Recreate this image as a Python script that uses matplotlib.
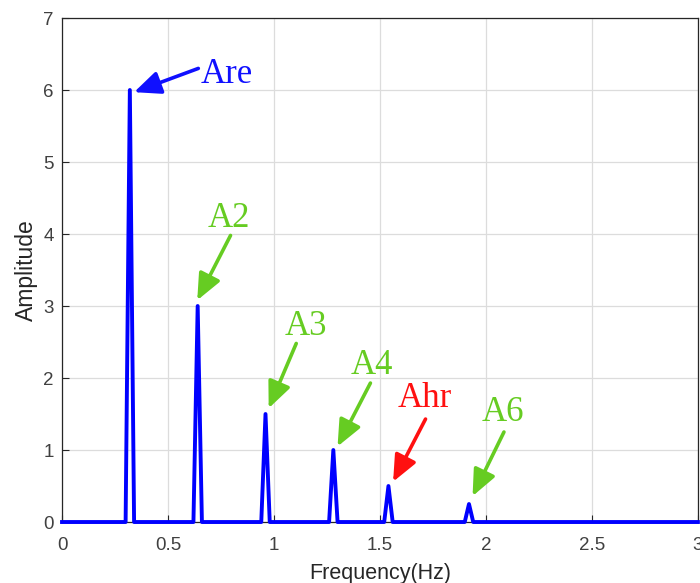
import matplotlib.pyplot as plt
import numpy as np

# Spectrum samples
freq = [0.0, 0.30, 0.32, 0.34, 0.62, 0.64, 0.66, 0.94, 0.96, 0.98,
        1.26, 1.28, 1.30, 1.52, 1.54, 1.56, 1.90, 1.92, 1.94, 3.0]
amp = [0.0, 0.0, 6.0, 0.0, 0.0, 3.0, 0.0, 0.0, 1.5, 0.0,
       0.0, 1.0, 0.0, 0.0, 0.5, 0.0, 0.0, 0.25, 0.0, 0.0]

# Annotations: label, text position, arrow start, arrow tip, colour
labels = ['Are', 'A2', 'A3', 'A4', 'Ahr', 'A6']
text_xy = [(0.652, 6.22), (0.785, 4.22), (1.15, 2.72), (1.46, 2.18), (1.71, 1.72), (2.08, 1.52)]
text_ha = ['left', 'center', 'center', 'center', 'center', 'center']
start_xy = [(0.643, 6.30), (0.795, 3.98), (1.105, 2.48), (1.455, 1.93), (1.715, 1.43), (2.085, 1.25)]
tip_xy = [(0.34, 5.97), (0.638, 3.08), (0.975, 1.58), (1.30, 1.05), (1.562, 0.56), (1.937, 0.36)]
label_colors = ['#1010ff', '#66cc22', '#66cc22', '#66cc22', '#ff1010', '#66cc22']

axis_gray = '#262626'

fig = plt.figure(figsize=(7.0, 5.83), dpi=100)
ax = fig.add_axes([0.0886, 0.1046, 0.9084, 0.8645])

ax.plot(freq, amp, color='#0000ff', lw=2.8, clip_on=False, zorder=3)

for lab, txy, ha, sxy, pxy, col in zip(labels, text_xy, text_ha, start_xy, tip_xy, label_colors):
    ax.annotate('', xy=pxy, xytext=sxy,
                arrowprops=dict(arrowstyle='-|>,head_length=0.8,head_width=0.35',
                                color=col, lw=2.6, mutation_scale=20,
                                shrinkA=0, shrinkB=0))
    ax.text(txy[0], txy[1], lab, color=col, fontsize=25,
            family='Liberation Serif', ha=ha, va='center')

ax.set_xlim(0, 3)
ax.set_ylim(0, 7)
ax.set_xticks([0, 0.5, 1, 1.5, 2, 2.5, 3])
ax.set_xticklabels(['0', '0.5', '1', '1.5', '2', '2.5', '3'])
ax.set_yticks(np.arange(0, 8, 1))

ax.grid(True, color='#dcdcdc', lw=0.9)
ax.set_axisbelow(True)
for s in ax.spines.values():
    s.set_color(axis_gray)
    s.set_linewidth(0.9)

ax.tick_params(direction='in', length=5, width=0.8, colors=axis_gray,
               labelcolor='#404040', labelsize=13.5)
ax.tick_params(axis='x', pad=11)
ax.tick_params(axis='y', pad=6)
for t in ax.get_xticklabels() + ax.get_yticklabels():
    t.set_family('Liberation Sans')

ax.set_xlabel('Frequency(Hz)', fontsize=15.5, color=axis_gray, family='Liberation Sans', labelpad=6)
ax.set_ylabel('Amplitude', fontsize=16.5, color=axis_gray, family='Liberation Sans', labelpad=4)

fig.savefig('out.png', dpi=100)
